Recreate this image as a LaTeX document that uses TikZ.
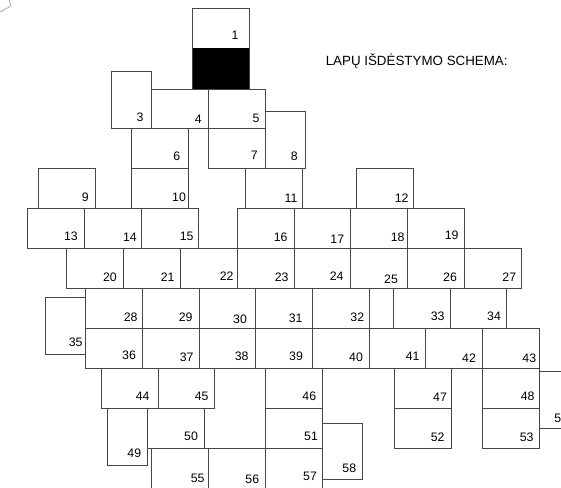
\documentclass[tikz,border=0pt]{standalone}
\usepackage{fontspec}
\setmainfont{Liberation Sans}
\definecolor{sheetline}{RGB}{70,70,70}
\definecolor{cornerline}{RGB}{150,150,150}
\tikzset{
  sheet/.style={draw=sheetline, line width=0.6pt},
  num/.style={font=\fontsize{10.5}{12}\selectfont, inner sep=0pt},
}

\begin{document}
\begin{tikzpicture}[x=0.03cm, y=-0.03cm]
  \useasboundingbox (0,0) rectangle (561,488);
  \clip (0,0) rectangle (561,488);

  % Corner of a rotated frame
  \draw[cornerline, line width=0.5pt] (0,12) -- (11,6) -- (9,0);

  % Title
  \node[font=\fontsize{11.4}{13}\selectfont, anchor=base, inner sep=0pt] (title) at (416.7,65.7) {LAPŲ IŠDĖSTYMO SCHEMA:};

  % Sheet 1 with black lower half
  \fill[black] (192,48.3) rectangle (249.3,89);
  \draw[sheet] (192,8.3) rectangle (249.3,89);
  \node[num] (s1) at (235,35) {1};

  % Row 3-8
  \draw[sheet] (111.5,71.5) rectangle (151.5,128.5);
  \node[num] (s3) at (140,117.7) {3};
  \draw[sheet] (151.5,89) rectangle (208.5,128.5);
  \node[num] (s4) at (198.3,119) {4};
  \draw[sheet] (208.5,89) rectangle (265.5,128.5);
  \node[num] (s5) at (256,118.3) {5};
  \draw[sheet] (265.5,111.5) rectangle (305.5,168.5);
  \node[num] (s8) at (294.3,156) {8};
  \draw[sheet] (131.5,128.5) rectangle (188.5,168.5);
  \node[num] (s6) at (176.7,156) {6};
  \draw[sheet] (208.5,128.5) rectangle (265.5,168.5);
  \node[num] (s7) at (254.3,155.3) {7};

  % Row 9-12
  \draw[sheet] (38.5,168.5) rectangle (95.5,208.5);
  \node[num] (s9) at (85.3,197.7) {9};
  \draw[sheet] (131.5,168.5) rectangle (188.5,208.5);
  \node[num] (s10) at (179,197.7) {10};
  \draw[sheet] (245.5,168.5) rectangle (302.5,208.5);
  \node[num] (s11) at (291,198.3) {11};
  \draw[sheet] (356.5,168.5) rectangle (413.5,208.5);
  \node[num] (s12) at (401.7,198.3) {12};

  % Row 13-19
  \draw[sheet] (27.5,208.5) rectangle (84.5,248.5);
  \node[num] (s13) at (71,236) {13};
  \draw[sheet] (84.5,208.5) rectangle (141.5,248.5);
  \node[num] (s14) at (130,237.3) {14};
  \draw[sheet] (141.5,208.5) rectangle (198,248.5);
  \node[num] (s15) at (186.7,236.7) {15};
  \draw[sheet] (237.5,208.5) rectangle (294,248.5);
  \node[num] (s16) at (280.7,237.7) {16};
  \draw[sheet] (294,208.5) rectangle (350.5,248.5);
  \node[num] (s17) at (337.3,239) {17};
  \draw[sheet] (350.5,208.5) rectangle (407.5,248.5);
  \node[num] (s18) at (397.7,237.7) {18};
  \draw[sheet] (407.5,208.5) rectangle (464.5,248.5);
  \node[num] (s19) at (451.7,235.7) {19};

  % Row 20-27
  \draw[sheet] (66.5,248.5) rectangle (123.5,288.5);
  \node[num] (s20) at (110,277.3) {20};
  \draw[sheet] (123.5,248.5) rectangle (180.5,288.5);
  \node[num] (s21) at (167.7,277.3) {21};
  \draw[sheet] (180.5,248.5) rectangle (237,288.5);
  \node[num] (s22) at (226.7,276.7) {22};
  \draw[sheet] (237,248.5) rectangle (294,288.5);
  \node[num] (s23) at (281.7,277) {23};
  \draw[sheet] (294,248.5) rectangle (350.5,288.5);
  \node[num] (s24) at (336.7,276.7) {24};
  \draw[sheet] (350.5,248.5) rectangle (407.5,288.5);
  \node[num] (s25) at (391,279) {25};
  \draw[sheet] (407.5,248.5) rectangle (464.5,288.5);
  \node[num] (s26) at (450,277.3) {26};
  \draw[sheet] (464.5,248.5) rectangle (521,288.5);
  \node[num] (s27) at (509.3,277.3) {27};

  % Row 28-35
  \draw[sheet] (85.5,288.5) rectangle (142,328.5);
  \node[num] (s28) at (130.7,317.7) {28};
  \draw[sheet] (142,288.5) rectangle (199,328.5);
  \node[num] (s29) at (185.7,317.7) {29};
  \draw[sheet] (199,288.5) rectangle (255.5,328.5);
  \node[num] (s30) at (240,319.3) {30};
  \draw[sheet] (255.5,288.5) rectangle (312.5,328.5);
  \node[num] (s31) at (295.7,318.3) {31};
  \draw[sheet] (312.5,288.5) rectangle (369.5,328.5);
  \node[num] (s32) at (357.3,317.7) {32};
  \draw[sheet] (393.5,288.5) rectangle (450,328.5);
  \node[num] (s33) at (437.7,316.7) {33};
  \draw[sheet] (450,288.5) rectangle (506.5,328.5);
  \node[num] (s34) at (494,316) {34};
  \draw[sheet] (45.5,297.5) rectangle (85.5,354);
  \node[num] (s35) at (75.7,342.7) {35};

  % Row 36-43
  \draw[sheet] (85.5,328.5) rectangle (142,368.5);
  \node[num] (s36) at (129,355) {36};
  \draw[sheet] (142,328.5) rectangle (199,368.5);
  \node[num] (s37) at (186.7,357.7) {37};
  \draw[sheet] (199,328.5) rectangle (255.5,368.5);
  \node[num] (s38) at (241.7,356.7) {38};
  \draw[sheet] (255.5,328.5) rectangle (312.5,368.5);
  \node[num] (s39) at (296,356.7) {39};
  \draw[sheet] (312.5,328.5) rectangle (369.5,368.5);
  \node[num] (s40) at (356,357.7) {40};
  \draw[sheet] (369.5,328.5) rectangle (425.5,368.5);
  \node[num] (s41) at (412.7,356.7) {41};
  \draw[sheet] (425.5,328.5) rectangle (482.5,368.5);
  \node[num] (s42) at (469,358.3) {42};
  \draw[sheet] (482.5,328.5) rectangle (539.5,368.5);
  \node[num] (s43) at (529.3,358.3) {43};

  % Row 44-48, 54
  \draw[sheet] (101.5,368.5) rectangle (158.5,408.5);
  \node[num] (s44) at (142.7,396.7) {44};
  \draw[sheet] (158.5,368.5) rectangle (214.5,408.5);
  \node[num] (s45) at (201.7,396) {45};
  \draw[sheet] (265.5,368.5) rectangle (322.5,408.5);
  \node[num] (s46) at (309.3,396) {46};
  \draw[sheet] (394.5,368.5) rectangle (451.5,408.5);
  \node[num] (s47) at (440,397.3) {47};
  \draw[sheet] (482.5,368.5) rectangle (539.5,408.5);
  \node[num] (s48) at (527.7,396.7) {48};
  \draw[sheet] (539.5,371.5) rectangle (579.5,428.5);
  \node[num] (s54) at (561.3,418) {54};

  % Row 49-53
  \draw[sheet] (107.5,408.5) rectangle (147.5,465);
  \node[num] (s49) at (134.3,453.3) {49};
  \draw[sheet] (147.5,408.5) rectangle (204.5,448.5);
  \node[num] (s50) at (191,436.7) {50};
  \draw[sheet] (265.5,408.5) rectangle (322.5,448.5);
  \node[num] (s51) at (311,436.7) {51};
  \draw[sheet] (394.5,408.5) rectangle (451.5,448.5);
  \node[num] (s52) at (437.7,437.7) {52};
  \draw[sheet] (482.5,408.5) rectangle (539.5,448.5);
  \node[num] (s53) at (526.7,437.7) {53};

  % Row 55-58
  \draw[sheet] (204.5,448.5) -- (265.5,448.5);
  \draw[sheet] (151.5,448.5) rectangle (208.5,495);
  \node[num] (s55) at (197.7,478.3) {55};
  \draw[sheet] (208.5,448.5) rectangle (265.5,495);
  \node[num] (s56) at (252.3,479.3) {56};
  \draw[sheet] (265.5,448.5) rectangle (322.5,495);
  \node[num] (s57) at (310,476) {57};
  \draw[sheet] (322.5,423.5) rectangle (362.5,479.5);
  \node[num] (s58) at (349.3,468.3) {58};
\end{tikzpicture}
\end{document}
